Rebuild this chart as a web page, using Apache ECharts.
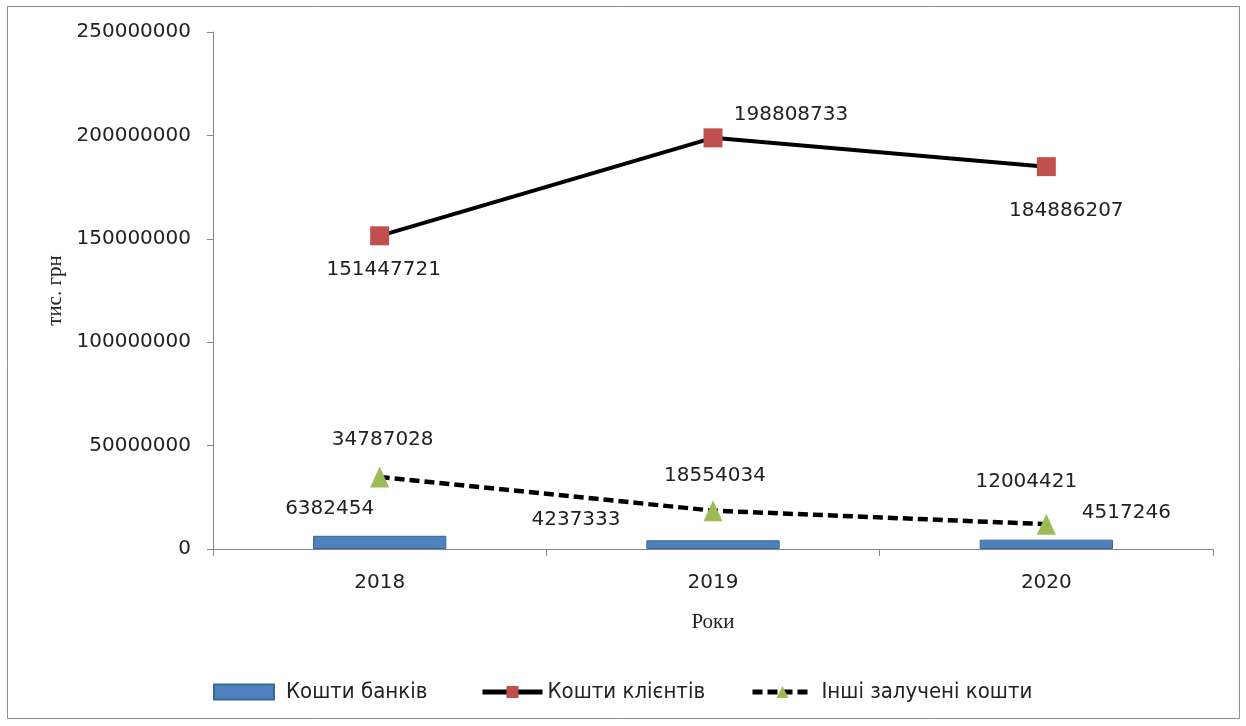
<!DOCTYPE html>
<html>
<head>
<meta charset="utf-8">
<script src="https://cdn.jsdelivr.net/npm/echarts@6/dist/echarts.min.js"></script>
<style>
  html, body { margin: 0; padding: 0; background: #fff; }
  #chart { width: 1246px; height: 726px; }
</style>
</head>
<body>
<div id="chart"></div>
<script>
// Роки
const years = ['2018', '2019', '2020'];
// Кошти банків, тис. грн
const bankFunds = [6382454, 4237333, 4517246];
// Кошти клієнтів, тис. грн
const clientFunds = [151447721, 198808733, 184886207];
// Інші залучені кошти, тис. грн
const otherFunds = [34787028, 18554034, 12004421];
const yTicks = [0, 50000000, 100000000, 150000000, 200000000, 250000000];

const seriesNames = ['Кошти банків', 'Кошти клієнтів', 'Інші залучені кошти'];

const labelFont = { fontFamily: 'DejaVu Sans', fontSize: 20, color: '#222' };

// per-point label offsets (px) for each series
const bankLabelOffsets = [[-50, -12], [-137, -5], [80, -12]];
const clientLabelOffsets = [[4, 34], [78, -23], [20, 44]];
const otherLabelOffsets = [[3, -37], [2, -35], [-20, -42]];

function withLabels(values, offsets) {
  return values.map((v, i) => ({
    value: v,
    label: { offset: offsets[i] }
  }));
}

// one legend block per series so each entry sits at its own spot
const legendSpots = [
  { left: 208, pad: 7, icon: 'rect' },
  { left: 475, pad: 0 },
  { left: 745, pad: 4 }
];
const legends = seriesNames.map((name, i) => ({
  top: 676,
  left: legendSpots[i].left,
  itemWidth: 60,
  itemHeight: 15,
  lineStyle: { width: 5 },
  textStyle: {
    fontFamily: 'DejaVu Sans Condensed', fontSize: 22, color: '#222',
    padding: [0, 0, 0, legendSpots[i].pad]
  },
  data: [legendSpots[i].icon ? { name, icon: legendSpots[i].icon } : { name }]
}));

const chart = echarts.init(document.getElementById('chart'));
chart.setOption({
  animation: false,
  backgroundColor: '#fff',
  graphic: [{
    type: 'rect',
    shape: { x: 7.5, y: 6.5, width: 1232, height: 712 },
    style: { fill: 'none', stroke: '#8c8c8c', lineWidth: 1 }
  }],
  grid: { left: 213, right: 33, top: 32, bottom: 177 },
  legend: legends,
  xAxis: {
    type: 'category',
    data: years,
    name: 'Роки',
    nameLocation: 'middle',
    nameGap: 63,
    nameTextStyle: { fontFamily: 'Liberation Serif', fontSize: 21, color: '#222' },
    axisLine: { lineStyle: { color: '#868686' } },
    axisTick: { show: true, alignWithLabel: false, length: 7, lineStyle: { color: '#868686' } },
    axisLabel: { fontFamily: 'DejaVu Sans', fontSize: 20, color: '#222', margin: 24 }
  },
  yAxis: {
    type: 'value',
    min: 0,
    max: 250000000,
    interval: 50000000,
    name: 'тис. грн',
    nameLocation: 'middle',
    nameGap: 147,
    nameTextStyle: { fontFamily: 'Liberation Serif', fontSize: 21, color: '#222' },
    axisLine: { show: true, lineStyle: { color: '#868686' } },
    axisTick: { show: true, length: 6, lineStyle: { color: '#868686' } },
    axisLabel: {
      fontFamily: 'DejaVu Sans', fontSize: 20, color: '#222', margin: 22,
      formatter: v => String(v)
    },
    splitLine: { show: false }
  },
  series: [
    {
      name: seriesNames[0],
      type: 'bar',
      barWidth: '40%',
      data: withLabels(bankFunds, bankLabelOffsets),
      itemStyle: { color: '#4F81BD', borderColor: '#3A6796', borderWidth: 1 },
      label: Object.assign({ show: true, position: 'top' }, labelFont)
    },
    {
      name: seriesNames[1],
      type: 'line',
      data: withLabels(clientFunds, clientLabelOffsets),
      lineStyle: { color: '#000', width: 4 },
      itemStyle: { color: '#C0504D' },
      symbol: 'rect',
      symbolSize: 19,
      label: Object.assign({ show: true, position: 'inside' }, labelFont),
      z: 3
    },
    {
      name: seriesNames[2],
      type: 'line',
      data: withLabels(otherFunds, otherLabelOffsets),
      lineStyle: { color: '#000', width: 4.5, type: [10, 5] },
      itemStyle: { color: '#9BBB59' },
      symbol: 'triangle',
      symbolSize: [19, 21],
      label: Object.assign({ show: true, position: 'inside' }, labelFont),
      z: 3
    }
  ]
});
</script>
</body>
</html>
